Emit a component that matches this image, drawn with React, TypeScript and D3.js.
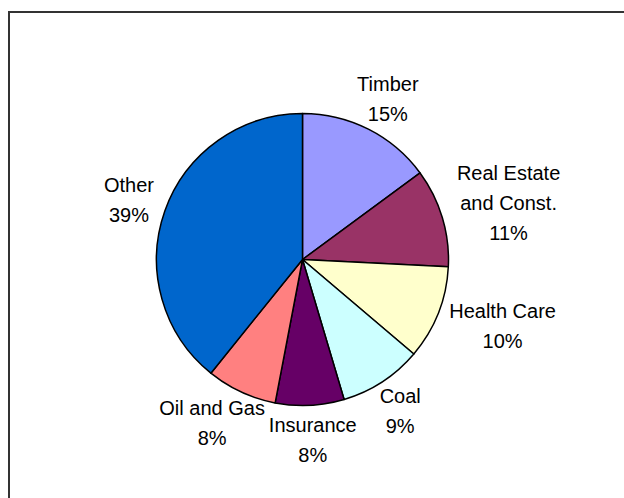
import React from "react";
import * as d3 from "d3";

const categories = ["Timber", "Real Estate\nand Const.", "Health Care", "Coal", "Insurance", "Oil and Gas", "Other"];
const shares = [14.9, 10.9, 10.4, 9.2, 7.6, 7.8, 39.2];
const colors = ["#9999FF", "#993366", "#FFFFCC", "#CCFFFF", "#660066", "#FF8080", "#0066CC"];

const W = 624;
const H = 498;
const CX = 302.5;
const CY = 259.5;
const R = 146;
const FONT = 20;
const LINE = 30;
const GAP = 12;

export default function App() {
  React.useEffect(() => {
    document.body.style.margin = "0";
    document.body.style.overflow = "hidden";
  }, []);
  const pie = d3.pie<number>().sort(null).value((d) => d)(shares);
  const arc = d3.arc<d3.PieArcDatum<number>>().innerRadius(0).outerRadius(R);
  const total = d3.sum(shares);

  return (
    <svg
      width={W}
      height={H}
      style={{ display: "block", position: "fixed", left: 0, top: 0, background: "#fff" }}
    >
      <path d={`M9,${H + 5}V12H${W + 5}`} fill="none" stroke="#333" strokeWidth={2} />
      <g transform={`translate(${CX},${CY})`}>
        {pie.map((p, i) => (
          <path key={i} d={arc(p) || ""} fill={colors[i]} stroke="#000" strokeWidth={1.5} strokeLinejoin="round" />
        ))}
      </g>
      {pie.map((p, i) => {
        const lines = [...categories[i].split("\n"), `${Math.round((shares[i] / total) * 100)}%`];
        const mid = (p.startAngle + p.endAngle) / 2;
        const s = Math.sin(mid);
        const c = Math.cos(mid);
        const widths = lines.map((l) => l.length * FONT * 0.52);
        const hw = d3.max(widths)! / 2;
        const hh = ((lines.length - 1) * LINE + FONT * 0.72) / 2;
        const x = CX + (R + GAP) * s + hw * s;
        const y = CY - (R + GAP) * c - hh * c;
        const firstCapCenter = y - ((lines.length - 1) * LINE) / 2;
        return (
          <text
            key={i}
            x={x}
            textAnchor="middle"
            fontFamily="'Liberation Sans', Arial, sans-serif"
            fontSize={FONT}
            fill="#000"
          >
            {lines.map((l, j) => (
              <tspan key={j} x={x} y={firstCapCenter + j * LINE + FONT * 0.36}>
                {l}
              </tspan>
            ))}
          </text>
        );
      })}
    </svg>
  );
}
